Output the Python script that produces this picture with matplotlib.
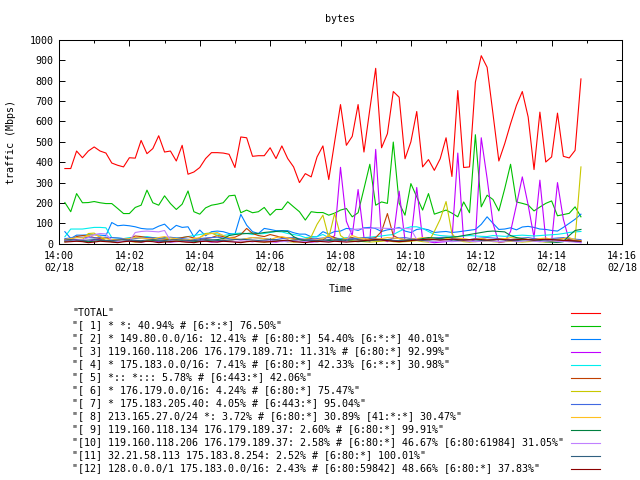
import pandas as pd
import numpy as np
import matplotlib
matplotlib.use('Agg')
import matplotlib.pyplot as plt
from matplotlib.lines import Line2D

plt.rcParams.update({'font.family': 'DejaVu Sans Mono', 'font.size': 7.2})

# samples every 10 s starting 14:00:10
times = pd.date_range('2014-02-18 14:00:10', periods=89, freq='10s')

total = [369, 369, 455, 422, 455, 475, 455, 445, 396, 385,
         377, 422, 420, 507, 442, 467, 530, 450, 455, 406,
         483, 341, 352, 374, 418, 447, 447, 445, 439, 374,
         524, 520, 429, 432, 432, 471, 418, 480, 418, 377,
         300, 344, 328, 426, 480, 315, 500, 683, 483, 527,
         683, 450, 660, 861, 471, 540, 747, 719, 417, 500,
         649, 377, 413, 360, 417, 520, 330, 752, 374, 377,
         793, 923, 866, 638, 406, 491, 589, 679, 747, 622,
         364, 646, 401, 426, 641, 429, 421, 458, 809]
s1 = [202, 157, 246, 201, 202, 207, 201, 197, 197, 173,
      148, 148, 178, 189, 263, 201, 189, 235, 197, 168,
      194, 259, 157, 145, 176, 189, 194, 201, 235, 238,
      152, 165, 152, 157, 178, 140, 168, 168, 206, 181,
      157, 116, 157, 153, 153, 140, 150, 165, 173, 132,
      152, 270, 390, 189, 205, 198, 499, 199, 140, 295,
      230, 165, 246, 145, 155, 165, 150, 132, 205, 152,
      535, 181, 238, 217, 161, 270, 390, 205, 198, 190,
      161, 180, 198, 210, 137, 143, 149, 181, 132]
s2 = [59, 26, 42, 42, 44, 44, 42, 40, 104, 88,
      91, 88, 83, 75, 72, 72, 86, 96, 67, 90,
      80, 83, 34, 67, 39, 59, 62, 59, 50, 47,
      144, 91, 59, 50, 75, 70, 64, 64, 64, 54,
      47, 47, 34, 34, 59, 47, 60, 62, 75, 72,
      65, 78, 80, 74, 60, 68, 72, 80, 62, 55,
      70, 74, 68, 55, 58, 60, 55, 58, 62, 66,
      70, 95, 132, 100, 70, 72, 78, 68, 82, 85,
      80, 72, 70, 65, 62, 80, 100, 120, 145]
s3 = [15, 18, 20, 14, 12, 18, 22, 15, 10, 8,
      12, 15, 10, 8, 12, 14, 10, 12, 8, 10,
      12, 6, 10, 14, 12, 8, 10, 12, 15, 10,
      8, 12, 10, 14, 12, 10, 8, 12, 10, 14,
      10, 12, 8, 10, 12, 15, 40, 375, 110, 40,
      266, 30, 10, 463, 20, 10, 30, 258, 15, 20,
      276, 20, 10, 5, 8, 10, 15, 445, 15, 10,
      20, 520, 320, 100, 5, 10, 60, 190, 328, 190,
      30, 312, 20, 10, 300, 120, 15, 10, 5]
s4 = [34, 72, 72, 72, 76, 80, 80, 78, 30, 28,
      25, 30, 28, 32, 35, 30, 28, 25, 30, 28,
      30, 35, 40, 45, 50, 52, 48, 40, 45, 50,
      52, 50, 45, 48, 50, 55, 60, 58, 50, 45,
      40, 30, 32, 35, 45, 30, 28, 25, 30, 28,
      26, 30, 32, 35, 38, 42, 45, 60, 75, 83,
      83, 75, 60, 45, 40, 38, 36, 35, 38, 40,
      38, 36, 35, 40, 38, 36, 38, 40, 42, 40,
      38, 40, 42, 44, 46, 50, 55, 58, 60]
s5 = [20, 22, 35, 40, 38, 30, 25, 28, 20, 18,
      22, 25, 38, 35, 30, 28, 25, 22, 20, 25,
      30, 35, 28, 22, 25, 30, 40, 35, 30, 32,
      45, 75, 50, 40, 35, 45, 38, 30, 28, 25,
      20, 22, 25, 20, 18, 40, 30, 20, 25, 30,
      20, 18, 25, 30, 60, 148, 40, 25, 20, 22,
      25, 20, 18, 22, 25, 20, 22, 25, 20, 18,
      22, 25, 20, 18, 22, 25, 20, 18, 22, 20,
      25, 22, 20, 18, 22, 25, 20, 18, 15]
s6 = [10, 12, 15, 20, 50, 52, 30, 15, 10, 8,
      10, 12, 8, 10, 15, 20, 25, 30, 20, 15,
      10, 8, 12, 30, 50, 52, 40, 20, 15, 10,
      8, 10, 12, 10, 8, 10, 12, 15, 10, 8,
      10, 20, 34, 95, 140, 30, 148, 40, 20, 15,
      12, 10, 8, 10, 12, 15, 10, 8, 10, 12,
      15, 10, 8, 60, 120, 207, 50, 15, 10, 8,
      10, 12, 15, 10, 8, 10, 12, 10, 8, 10,
      12, 10, 8, 10, 12, 15, 10, 20, 377]
s7 = [25, 28, 30, 32, 30, 28, 30, 32, 30, 28,
      25, 22, 25, 28, 30, 28, 25, 30, 32, 28,
      25, 22, 20, 25, 28, 30, 32, 28, 25, 22,
      20, 25, 30, 28, 25, 22, 20, 25, 28, 30,
      25, 20, 22, 25, 28, 30, 25, 22, 20, 25,
      28, 30, 28, 25, 22, 20, 25, 28, 30, 25,
      22, 20, 25, 28, 30, 32, 28, 25, 22, 20,
      25, 28, 30, 28, 25, 22, 20, 25, 28, 30,
      25, 22, 20, 25, 28, 30, 25, 22, 20]
s8 = [20, 25, 30, 28, 40, 45, 35, 25, 20, 18,
      22, 25, 30, 28, 25, 22, 30, 35, 28, 25,
      20, 18, 25, 30, 45, 50, 55, 40, 30, 25,
      20, 25, 30, 28, 25, 20, 30, 35, 28, 22,
      20, 18, 15, 20, 25, 40, 22, 18, 25, 40,
      30, 25, 20, 22, 25, 30, 28, 25, 20, 22,
      25, 30, 28, 22, 20, 25, 30, 28, 25, 20,
      22, 25, 20, 18, 22, 25, 30, 28, 25, 22,
      20, 25, 28, 22, 20, 25, 30, 18, 15]
s9 = [12, 15, 14, 12, 10, 12, 15, 14, 12, 10,
      12, 14, 12, 10, 12, 15, 14, 12, 10, 12,
      14, 12, 10, 12, 15, 18, 20, 25, 40, 45,
      48, 50, 52, 50, 55, 58, 60, 62, 60, 35,
      20, 15, 12, 10, 12, 15, 18, 20, 15, 12,
      10, 12, 15, 18, 20, 18, 15, 12, 15, 18,
      20, 25, 30, 28, 25, 30, 32, 35, 40, 45,
      50, 55, 60, 62, 60, 58, 40, 30, 25, 20,
      15, 12, 10, 8, 6, 10, 40, 65, 70]
s10 = [15, 12, 18, 20, 30, 45, 50, 48, 15, 12,
       10, 12, 55, 60, 62, 60, 58, 65, 15, 12,
       10, 12, 15, 18, 12, 10, 15, 18, 12, 10,
       15, 12, 10, 12, 15, 18, 12, 10, 12, 15,
       12, 10, 15, 18, 12, 10, 12, 15, 10, 70,
       72, 75, 75, 78, 76, 75, 74, 76, 75, 72,
       20, 15, 12, 10, 15, 12, 10, 12, 15, 12,
       10, 12, 15, 12, 10, 12, 15, 10, 12, 15,
       12, 10, 12, 15, 10, 12, 10, 8, 5]
s11 = [18, 20, 18, 16, 18, 20, 18, 16, 15, 18,
       20, 18, 16, 15, 18, 20, 18, 16, 18, 20,
       18, 16, 15, 18, 20, 18, 16, 15, 18, 20,
       22, 20, 18, 16, 18, 20, 18, 16, 15, 18,
       20, 18, 16, 15, 18, 20, 18, 16, 18, 20,
       18, 16, 15, 18, 20, 18, 16, 15, 18, 20,
       18, 16, 18, 20, 22, 20, 18, 16, 18, 20,
       18, 16, 15, 18, 20, 18, 16, 15, 18, 20,
       18, 16, 18, 20, 18, 16, 15, 12, 10]
s12 = [8, 10, 12, 10, 5, 8, 12, 10, 8, 5,
       10, 12, 10, 8, 12, 10, 5, 8, 10, 12,
       10, 8, 5, 10, 12, 10, 8, 12, 10, 8,
       5, 10, 12, 10, 8, 10, 12, 15, 18, 10,
       8, 5, 10, 12, 10, 8, 12, 10, 8, 10,
       12, 15, 18, 20, 18, 15, 12, 10, 12, 15,
       18, 20, 22, 20, 18, 20, 22, 20, 18, 20,
       22, 20, 18, 20, 22, 20, 18, 20, 22, 20,
       18, 20, 22, 20, 18, 16, 15, 14, 12]

labels = ['"TOTAL"',
          '"[ 1] * *: 40.94% # [6:*:*] 76.50%"',
          '"[ 2] * 149.80.0.0/16: 12.41% # [6:80:*] 54.40% [6:*:*] 40.01%"',
          '"[ 3] 119.160.118.206 176.179.189.71: 11.31% # [6:80:*] 92.99%"',
          '"[ 4] * 175.183.0.0/16: 7.41% # [6:80:*] 42.33% [6:*:*] 30.98%"',
          '"[ 5] *:: *::: 5.78% # [6:443:*] 42.06%"',
          '"[ 6] * 176.179.0.0/16: 4.24% # [6:80:*] 75.47%"',
          '"[ 7] * 175.183.205.40: 4.05% # [6:443:*] 95.04%"',
          '"[ 8] 213.165.27.0/24 *: 3.72% # [6:80:*] 30.89% [41:*:*] 30.47%"',
          '"[ 9] 119.160.118.134 176.179.189.37: 2.60% # [6:80:*] 99.91%"',
          '"[10] 119.160.118.206 176.179.189.37: 2.58% # [6:80:*] 46.67% [6:80:61984] 31.05%"',
          '"[11] 32.21.58.113 175.183.8.254: 2.52% # [6:80:*] 100.01%"',
          '"[12] 128.0.0.0/1 175.183.0.0/16: 2.43% # [6:80:59842] 48.66% [6:80:*] 37.83%"']
colors = ['#ff0000', '#00c000', '#0080ff', '#c000ff', '#00eeee', '#c04000',
          '#c8c800', '#4169e1', '#ffc020', '#008040', '#c080ff', '#306080', '#8b0000']
series = [total, s1, s2, s3, s4, s5, s6, s7, s8, s9, s10, s11, s12]

tick_times = pd.date_range('2014-02-18 14:00', periods=9, freq='2min')
tick_labels = ['14:00\n02/18', '14:02\n02/18', '14:04\n02/18', '14:06\n02/18', '14:08\n02/18',
               '14:10\n02/18', '14:12\n02/18', '14:14\n02/18', '14:16\n02/18']
minor_times = pd.date_range('2014-02-18 14:01', periods=8, freq='2min')

fig = plt.figure(figsize=(6.4, 4.8), dpi=100)
ax = fig.add_axes([59/640, 1 - 243.7/480, 563/640, 203.7/480])
for vals, c in zip(series, colors):
    ax.plot(times, vals, color=c, lw=0.8)

ax.set_xlim(pd.Timestamp('2014-02-18 14:00'), pd.Timestamp('2014-02-18 14:16'))
ax.set_ylim(0, 1000)
ax.set_yticks(range(0, 1001, 100))
ax.set_xticks(tick_times, tick_labels)
for t in ax.get_xticklabels():
    t.set_linespacing(1.35)
ax.set_xticks(minor_times, minor=True)
ax.tick_params(which='both', direction='in', top=True, right=True, width=0.7)
ax.tick_params(which='major', length=4.5)
ax.tick_params(which='minor', length=2.5)
ax.tick_params(axis='x', pad=5)
ax.tick_params(axis='y', pad=4)
for sp in ax.spines.values():
    sp.set_linewidth(0.75)

fig.text(340.5/640, 1 - 19/480, 'bytes', ha='center', va='center')
fig.text(340.5/640, 1 - 289/480, 'Time', ha='center', va='center')
fig.text(11/640, 1 - 142/480, 'traffic (Mbps)', rotation=90, ha='center', va='center')

# key below the plot: text on the left, sample line on the right
for k, (lab, c) in enumerate(zip(labels, colors)):
    y = 1 - (312.5 + 13*k)/480
    fig.text(72/640, y, lab, ha='left', va='center')
    fig.add_artist(Line2D([571/640, 600/640], [y, y], color=c, lw=0.8))

plt.savefig('out.png', dpi=100)
